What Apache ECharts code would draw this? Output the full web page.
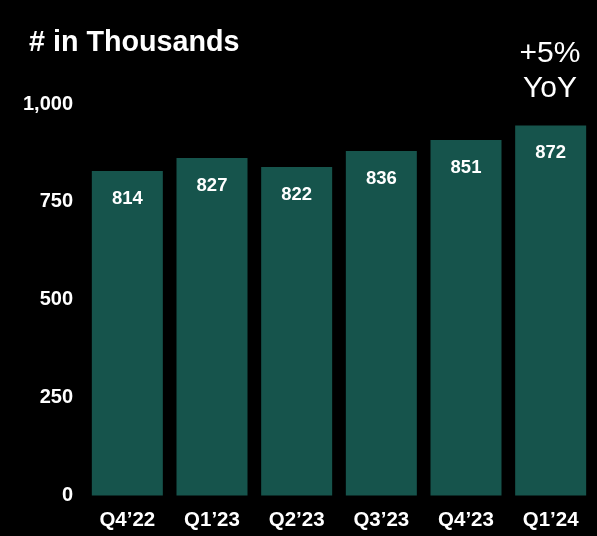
<!DOCTYPE html>
<html>
<head>
<meta charset="utf-8">
<style>
html,body{margin:0;padding:0;background:#000;}
#chart{width:597px;height:536px;}
</style>
<script src="https://cdn.jsdelivr.net/npm/echarts@6/dist/echarts.min.js"></script>
</head>
<body>
<div id="chart"></div>
<script>
const categories = ["Q4\u201922", "Q1\u201923", "Q2\u201923", "Q3\u201923", "Q4\u201923", "Q1\u201924"];
// bar heights as drawn in the picture (axis units)
const barHeights = [829, 862, 839, 880, 908, 945];
// numbers printed on the bars
const barLabels = [814, 827, 822, 836, 851, 872];
const yTicks = { min: 0, max: 1000, interval: 250 };
const titleText = "# in Thousands";
const noteText = "+5%\nYoY";

const font = "'Liberation Sans', Arial, Helvetica, sans-serif";
const chart = echarts.init(document.getElementById('chart'), null, { renderer: 'canvas' });
chart.setOption({
  backgroundColor: '#000000',
  animation: false,
  title: {
    text: titleText,
    left: 29, top: 29, padding: 0,
    textStyle: { color: '#ffffff', fontSize: 28.7, fontWeight: 'bold', fontFamily: font }
  },
  graphic: [{
    type: 'text',
    left: 550 - 35, top: 36,
    style: {
      text: noteText, fill: '#ffffff', font: "normal 30px " + font,
      textAlign: 'center', lineHeight: 35, width: 70, align: 'center'
    }
  }],
  grid: { left: 85, right: 4, top: 104, bottom: 40.5, containLabel: false },
  xAxis: {
    type: 'category',
    data: categories,
    axisLine: { show: false },
    axisTick: { show: false },
    axisLabel: { color: '#ffffff', fontSize: 20.5, fontWeight: 'bold', fontFamily: font, margin: 14 }
  },
  yAxis: {
    type: 'value',
    min: yTicks.min, max: yTicks.max, interval: yTicks.interval,
    splitLine: { show: false },
    axisLine: { show: false },
    axisTick: { show: false },
    axisLabel: {
      color: '#ffffff', fontSize: 20, fontWeight: 'bold', fontFamily: font, margin: 12,
      formatter: v => v.toLocaleString('en-US')
    }
  },
  series: [{
    type: 'bar',
    data: barHeights,
    barWidth: 71,
    itemStyle: { color: '#16544c' },
    label: {
      show: true, position: 'insideTop', distance: 18,
      color: '#ffffff', fontSize: 18.5, fontWeight: 'bold', fontFamily: font,
      formatter: p => String(barLabels[p.dataIndex])
    }
  }]
});
</script>
</body>
</html>
